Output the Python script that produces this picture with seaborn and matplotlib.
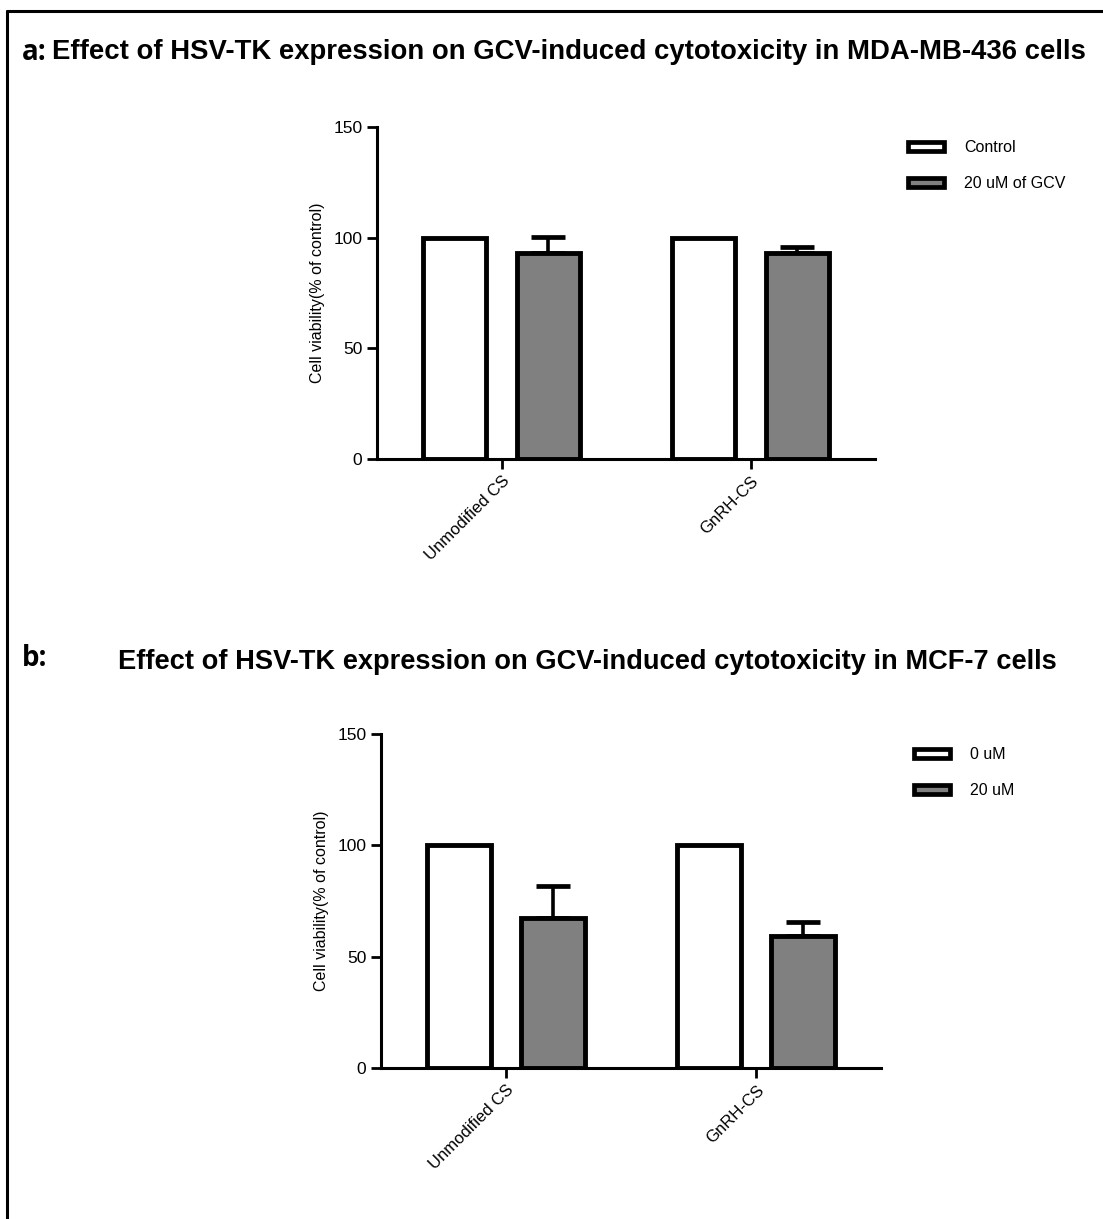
import numpy as np
import pandas as pd
import matplotlib
matplotlib.use("Agg")
import matplotlib.pyplot as plt
import matplotlib.patches as mpatches
import seaborn as sns

sns.set_theme(style="white")
plt.rcParams['font.family'] = ['Liberation Sans', 'DejaVu Sans']
plt.rcParams['text.color'] = 'black'
plt.rcParams['axes.labelcolor'] = 'black'
plt.rcParams['xtick.color'] = 'black'
plt.rcParams['ytick.color'] = 'black'

# data
groups = ['Unmodified CS', 'GnRH-CS']

a_labels = ['Control', '20 uM of GCV']
a_control = [100, 100]
a_gcv = [93, 93.2]
a_gcv_err = [7.5, 2.8]

b_labels = ['0 uM', '20 uM']
b_control = [100, 100]
b_gcv = [67.2, 59.3]
b_gcv_err = [14.5, 6.4]

yticks = [0, 50, 100, 150]
colors = ['white', '#808080']

W, H = 1103, 1219
fig = plt.figure(figsize=(W / 100, H / 100), dpi=100)


def px_axes(left, right, top, bottom):
    return fig.add_axes([left / W, 1 - bottom / H, (right - left) / W, (bottom - top) / H])


def draw_panel(ax, control, treated, err, labels, leg_xy):
    df = pd.DataFrame({
        'group': groups * 2,
        'treatment': [labels[0]] * 2 + [labels[1]] * 2,
        'value': list(control) + list(treated),
    })
    sns.barplot(data=df, x='group', y='value', hue='treatment', palette=colors,
                width=0.75, gap=0.325, edgecolor='black', linewidth=3.5,
                errorbar=None, legend=False, ax=ax)
    # upper-only error bars on the treated bars
    bars = [p for p in ax.patches if isinstance(p, mpatches.Rectangle)]
    treated_bars = bars[2:4]
    xs = [b.get_x() + b.get_width() / 2 for b in treated_bars]
    ax.errorbar(xs, treated, yerr=[np.zeros(len(err)), err], fmt='none',
                ecolor='black', elinewidth=2.6, capsize=12.5, capthick=3.4, zorder=1)
    for b in bars:
        b.set_zorder(2)

    ax.set_xlim(-0.5, 1.5)
    ax.set_ylim(0, 150)
    ax.set_yticks(yticks)
    ax.set_xlabel('')
    ax.set_ylabel('Cell viability(% of control)', fontsize=11.5, labelpad=6)
    for s in ['top', 'right']:
        ax.spines[s].set_visible(False)
    for s in ['left', 'bottom']:
        ax.spines[s].set_linewidth(2.2)
        ax.spines[s].set_color('black')
    ax.tick_params(axis='both', direction='out', length=7, width=2, color='black',
                   labelsize=12.5, left=True, bottom=True)
    ax.set_xticks([0, 1])
    ax.set_xticklabels(groups, rotation=45, ha='right', rotation_mode='anchor', fontsize=12)

    handles = [mpatches.Patch(facecolor=c, edgecolor='black', linewidth=3.4) for c in colors]
    fig.legend(handles, labels, loc='upper left', bbox_to_anchor=leg_xy, frameon=False,
               fontsize=11.5, handlelength=2.2, handleheight=0.5, handletextpad=1.3,
               labelspacing=1.3)


ax_a = px_axes(377, 875, 127, 459)
draw_panel(ax_a, a_control, a_gcv, a_gcv_err, a_labels, (894 / W, 1 - 126 / H))

ax_b = px_axes(381, 881, 734, 1068)
draw_panel(ax_b, b_control, b_gcv, b_gcv_err, b_labels, (900 / W, 1 - 733 / H))

# panel titles
fig.text(22 / W, 1 - 52 / H, 'a:', fontsize=20, fontweight='bold', family='Open Sans', va='center')
fig.text(52 / W, 1 - 52 / H, 'Effect of HSV-TK expression on GCV-induced cytotoxicity in MDA-MB-436 cells',
         fontsize=19.8, fontweight='bold', va='center')
fig.text(22 / W, 1 - 659 / H, 'b:', fontsize=20, fontweight='bold', family='Open Sans', va='center')
fig.text(118 / W, 1 - 662 / H, 'Effect of HSV-TK expression on GCV-induced cytotoxicity in MCF-7 cells',
         fontsize=19.6, fontweight='bold', va='center')

# frame lines on the left and top
fig.add_artist(plt.Line2D([7 / W, 7 / W], [0, 1 - 11 / H], color='black', linewidth=2.2))
fig.add_artist(plt.Line2D([7 / W, 1], [1 - 11 / H, 1 - 11 / H], color='black', linewidth=2.2))

fig.savefig('out.png', dpi=100)
